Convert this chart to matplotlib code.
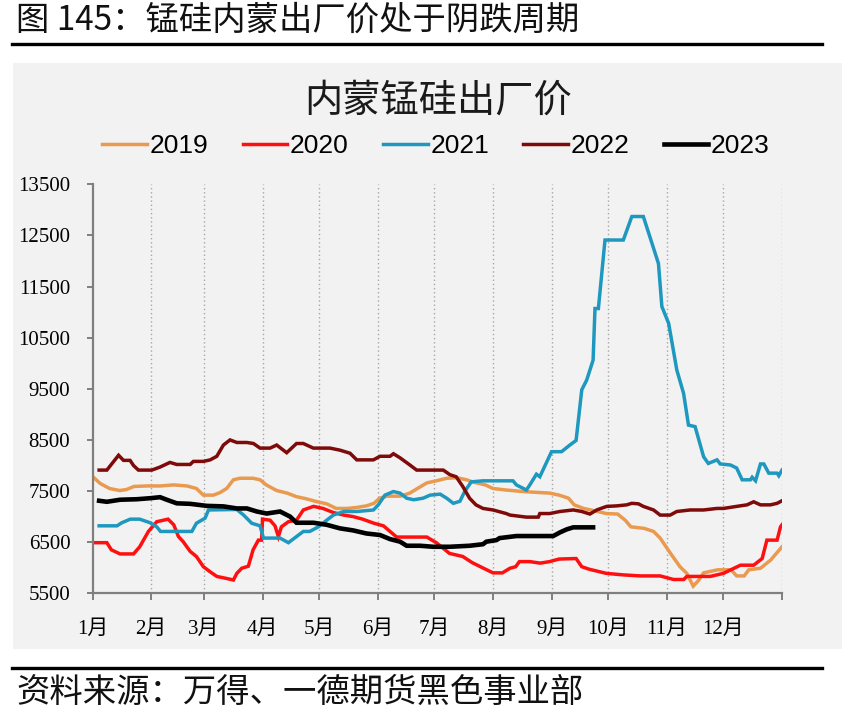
"""内蒙锰硅出厂价：2019–2023 年季节性走势图（按自然日对齐）。"""

import matplotlib
matplotlib.use("Agg")
import matplotlib.pyplot as plt  # noqa: E402
from matplotlib import font_manager  # noqa: E402
from matplotlib.lines import Line2D  # noqa: E402
from matplotlib.patches import Rectangle  # noqa: E402

W, H = 850, 710

# === 数据：一年中的第几天 / 价格（元/吨） ===
days_2019 = [0.5, 4, 9, 14.5, 18, 22, 29, 36, 43, 50, 55, 58.7, 64, 67.5, 71, 74.6,
             78, 85, 88.7, 92, 97.5, 103, 108, 113, 119, 124, 129, 135, 140, 145,
             149, 152, 156, 163, 168, 172, 177, 182, 187.5, 193, 198, 201, 208, 212,
             219, 228, 237, 242, 247, 252, 255, 260, 265, 272, 278, 282, 285, 292,
             297, 300.5, 306, 311, 314.6, 318, 321, 323.5, 331, 338, 341, 345,
             347.4, 353.6, 359, 365]
vals_2019 = [7770, 7650, 7550, 7510, 7530, 7590, 7600, 7600, 7620, 7600, 7550, 7420,
             7420, 7470, 7550, 7720, 7750, 7750, 7720, 7620, 7510, 7460, 7390, 7350,
             7290, 7250, 7160, 7160, 7180, 7210, 7260, 7360, 7400, 7400, 7460, 7550,
             7660, 7700, 7750, 7760, 7720, 7680, 7620, 7550, 7520, 7490, 7470, 7460,
             7420, 7360, 7230, 7160, 7120, 7060, 7050, 6930, 6800, 6770, 6710, 6580,
             6280, 6020, 5890, 5640, 5760, 5900, 5960, 5960, 5840, 5840, 5960, 5990,
             6150, 6410]

days_2020 = [0.5, 7.6, 10, 14.6, 21.7, 25, 29.6, 34, 40, 43, 45.5, 48, 51.7, 55,
             58.7, 62.3, 65.8, 71, 74.6, 76.4, 79, 82.5, 85, 87.8, 89.5, 90, 94,
             96.6, 98.4, 100, 103.7, 108, 111.6, 117, 122, 127.5, 133, 138, 143,
             149, 154, 157.5, 161, 177, 182, 189, 196, 201, 207, 212, 217, 221,
             224, 226, 231.5, 237, 242, 247, 256, 259, 263, 272, 281, 290, 300.5,
             307.6, 313, 314.6, 327, 334, 338.5, 343, 350, 354.5, 357, 362.4,
             364.2, 365]
vals_2020 = [6490, 6490, 6350, 6270, 6270, 6410, 6710, 6900, 6950, 6840, 6610, 6510,
             6320, 6220, 6020, 5920, 5830, 5790, 5760, 5890, 5990, 6030, 6350, 6540,
             6540, 6950, 6930, 6820, 6610, 6800, 6900, 6930, 7130, 7200, 7160, 7080,
             7030, 7000, 6950, 6870, 6820, 6710, 6600, 6600, 6490, 6280, 6220, 6100,
             5990, 5900, 5900, 5990, 6020, 6120, 6120, 6090, 6120, 6170, 6180, 6020,
             5970, 5890, 5860, 5840, 5840, 5770, 5770, 5830, 5830, 5890, 5970, 6050,
             6050, 6180, 6540, 6540, 6800, 6840]

days_2021 = [3.5, 13, 15.5, 20, 25, 30.5, 34, 36, 52.6, 55, 59.6, 61.4, 76.4, 80,
             84.3, 88.7, 90.5, 99.3, 103.7, 108, 111.6, 115, 119.6, 124, 127.5, 133,
             140, 148.7, 151.3, 154.8, 159.3, 162.8, 166.3, 170, 175, 178.7, 184,
             187.5, 191, 194.5, 197, 200.5, 206.7, 222.6, 224.4, 229.7, 231.5, 235,
             236.8, 243, 248.3, 252.7, 256, 259, 261.6, 265, 266, 267.8, 271.3, 281,
             285.5, 291.6, 297, 299.6, 301.4, 305, 309.3, 312.9, 315.5, 319, 323.5,
             326, 330.6, 332.3, 337.7, 341, 343.9, 348.3, 349.2, 351, 353.6, 355.4,
             358, 362.4, 363.3, 365]
vals_2021 = [6820, 6820, 6880, 6950, 6950, 6880, 6800, 6710, 6710, 6870, 6970, 7130,
             7140, 7030, 6870, 6820, 6580, 6580, 6490, 6610, 6710, 6710, 6800, 6930,
             7030, 7100, 7100, 7130, 7230, 7420, 7490, 7460, 7360, 7330, 7360, 7420,
             7440, 7360, 7260, 7300, 7490, 7680, 7700, 7700, 7620, 7520, 7620, 7830,
             7780, 8270, 8270, 8400, 8490, 9480, 9670, 10060, 11070, 11070, 12410,
             12410, 12870, 12870, 12250, 11950, 11110, 10780, 9870, 9410, 8790, 8760,
             8170, 8040, 8110, 8030, 8010, 7950, 7720, 7720, 7770, 7700, 8030, 8030,
             7850, 7850, 7800, 7910]

days_2022 = [3.5, 7.6, 13.8, 16.4, 19.9, 21.7, 24.3, 31.4, 35.8, 41, 44.6, 51.7, 53.4,
             58.7, 62.3, 65.8, 69.3, 72.8, 76.4, 81.7, 85.2, 88.7, 94, 97.5, 102.8,
             108, 111.6, 116.9, 125.7, 131, 136.3, 139.9, 148.7, 152.2, 157.5, 159.3,
             162.8, 168, 171.6, 185.7, 189.2, 192.5, 196, 199.6, 203, 206.7, 212, 219,
             221, 229.7, 236, 236.8, 242, 247.4, 254.5, 259, 263.3, 266.9, 272.2,
             277.5, 282.8, 285.5, 289, 291.6, 297, 300.5, 305.8, 309.3, 316.4, 323.5,
             330.6, 334, 341, 346.5, 350, 353.6, 358.9, 362.4, 365]
vals_2022 = [7910, 7910, 8200, 8100, 8100, 8000, 7910, 7910, 7970, 8060, 8020, 8020,
             8080, 8080, 8110, 8180, 8400, 8500, 8450, 8450, 8430, 8340, 8340, 8400,
             8250, 8430, 8430, 8340, 8340, 8300, 8240, 8110, 8110, 8180, 8180, 8230,
             8150, 8010, 7910, 7910, 7820, 7780, 7590, 7360, 7230, 7160, 7130, 7060,
             7030, 6990, 6990, 7060, 7060, 7100, 7130, 7100, 7050, 7130, 7200, 7210,
             7230, 7260, 7250, 7200, 7130, 7030, 7030, 7100, 7130, 7130, 7160, 7160,
             7200, 7230, 7290, 7230, 7230, 7260, 7310]

days_2023 = [3.5, 7.6, 14.6, 23.5, 30.5, 35.8, 39.3, 44.6, 51.7, 60.5, 69.3, 76.4,
             81.7, 87, 92.2, 99.3, 104.6, 108, 117, 124, 131, 138, 145, 152.2, 157.5,
             162.8, 166.3, 173.4, 180.4, 189, 199.6, 206.7, 208.5, 213.8, 215.5,
             224.4, 243.9, 247.4, 251, 254.5, 265]
vals_2023 = [7310, 7290, 7330, 7340, 7360, 7380, 7330, 7260, 7250, 7210, 7200, 7160,
             7160, 7100, 7060, 7100, 7000, 6880, 6880, 6840, 6770, 6730, 6670, 6640,
             6560, 6510, 6430, 6430, 6410, 6410, 6430, 6460, 6510, 6540, 6580, 6620,
             6620, 6690, 6750, 6790, 6790]

years = ["2019", "2020", "2021", "2022", "2023"]
series_days = [days_2019, days_2020, days_2021, days_2022, days_2023]
series_vals = [vals_2019, vals_2020, vals_2021, vals_2022, vals_2023]

month_starts = [0, 31, 59, 90, 120, 151, 181, 212, 243, 273, 304, 334, 365]
month_labels = ["1月", "2月", "3月", "4月", "5月", "6月", "7月", "8月", "9月",
                "10月", "11月", "12月", ""]
y_ticks = [5500, 6500, 7500, 8500, 9500, 10500, 11500, 12500, 13500]

COLORS = ["#E99A4F", "#FF1010", "#1E98BE", "#7E0A0A", "#000000"]
WIDTHS = [2.5, 2.5, 2.5, 2.5, 3.3]

CJK = "Noto Sans CJK SC"


def fx(x):
    return x / W


def fy(y):
    return 1 - y / H


def main():
    names = {f.name for f in font_manager.fontManager.ttflist}
    if "Liberation Sans Narrow" in names:
        legend_font = {"family": ["Liberation Sans Narrow"], "size": 22}
        hl, cs = 1.45, 1.15
    else:
        legend_font = {"family": ["Liberation Sans"], "size": 19}
        hl, cs = 1.7, 1.29

    plt.rcParams["font.family"] = ["Liberation Serif", CJK]

    fig = plt.figure(figsize=(W / 100, H / 100), dpi=100)
    fig.patch.set_facecolor("white")

    # 灰色底框
    fig.add_artist(Rectangle((fx(13), fy(649)), fx(842) - fx(13), fy(63) - fy(649),
                             transform=fig.transFigure, facecolor="#f2f2f2",
                             edgecolor="none", zorder=0))
    # 上下黑线
    for yy in (44, 668):
        fig.add_artist(Line2D([fx(12), fx(822)], [fy(yy), fy(yy)],
                              transform=fig.transFigure, color="black", lw=2.4))

    fig.text(fx(16), fy(20), "图 145：锰硅内蒙出厂价处于阴跌周期", family=[CJK],
             fontsize=24, ha="left", va="center", color="#111111")
    fig.text(fx(16), fy(692), "资料来源：万得、一德期货黑色事业部", family=[CJK],
             fontsize=24, ha="left", va="center", color="#111111")
    fig.text(fx(438), fy(101), "内蒙锰硅出厂价", family=[CJK], fontsize=27.5,
             ha="center", va="center", color="#1a1a1a")

    ax = fig.add_axes([fx(92.5), fy(593.3), fx(782) - fx(92.5), fy(184.3) - fy(593.3)])
    ax.set_facecolor("none")

    handles = []
    for name, d, v, c, lw in zip(years, series_days, series_vals, COLORS, WIDTHS):
        (ln,) = ax.plot(d, v, color=c, lw=lw, label=name, solid_joinstyle="miter")
        handles.append(ln)

    ax.set_xlim(0, 365)
    ax.set_ylim(5500, 13500)
    ax.set_xticks(month_starts)
    ax.set_xticklabels(month_labels)
    ax.set_yticks(y_ticks)
    ax.set_yticklabels([str(t) for t in y_ticks])

    for xm in month_starts[1:]:
        ax.axvline(xm, color="#a6a6a6", lw=1.0, ls=(0, (1, 2)), zorder=0)

    for side in ("top", "right"):
        ax.spines[side].set_visible(False)
    for side in ("left", "bottom"):
        ax.spines[side].set_color("#7f7f7f")
        ax.spines[side].set_linewidth(1.6)

    ax.tick_params(axis="both", colors="#7f7f7f", width=1.4, labelcolor="black",
                   labelsize=15, direction="out")
    ax.tick_params(axis="x", length=5, pad=14)
    ax.tick_params(axis="y", length=4, pad=12)

    fig.legend(handles, years, loc="center", bbox_to_anchor=(fx(436), fy(146)),
               ncol=5, frameon=False, handlelength=hl, handletextpad=0.1,
               columnspacing=cs, prop=legend_font)

    fig.savefig("out.png", dpi=100)
    plt.close(fig)


if __name__ == "__main__":
    main()
